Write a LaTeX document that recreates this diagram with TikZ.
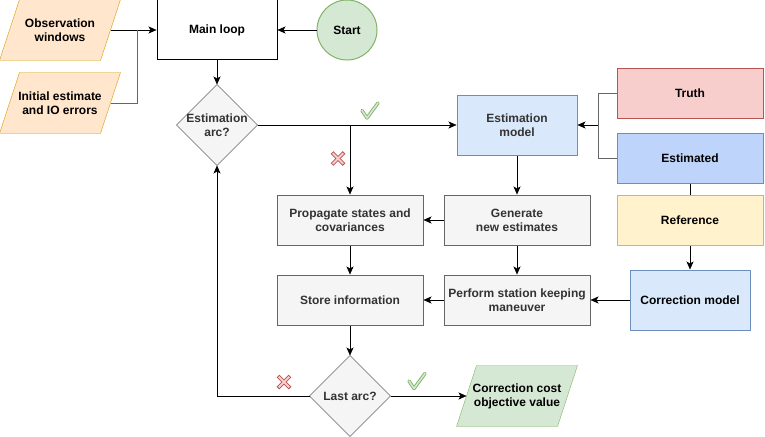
\documentclass[tikz,border=0pt]{standalone}
\usepackage{fontspec}
\setmainfont{Liberation Sans}
\usetikzlibrary{arrows.meta,backgrounds,calc}
\definecolor{orF}{HTML}{FFE6CC}\definecolor{orS}{HTML}{D79B00}
\definecolor{grnF}{HTML}{D5E8D4}\definecolor{grnS}{HTML}{82B366}
\definecolor{gyF}{HTML}{F5F5F5}\definecolor{gyS}{HTML}{666666}\definecolor{gyT}{HTML}{333333}
\definecolor{bluF}{HTML}{DAE8FC}\definecolor{bluS}{HTML}{6C8EBF}
\definecolor{bl2F}{HTML}{BFD4FA}
\definecolor{redF}{HTML}{F8CECC}\definecolor{redS}{HTML}{B85450}
\definecolor{yelF}{HTML}{FFF2CC}\definecolor{yelS}{HTML}{D6B656}
\begin{document}
\begin{tikzpicture}[x=1pt,y=-1pt,line width=1pt,
  font=\fontsize{12}{14}\selectfont\bfseries,
  box/.style={draw, minimum width=120pt, minimum height=60pt, align=center, inner sep=2pt},
  wbox/.style={draw, minimum width=146pt, minimum height=50pt, align=center, inner sep=2pt},
  ghost/.style n args={2}{minimum width=#1, minimum height=#2, inner sep=0pt, align=center},
  graybox/.style={wbox, draw=gyS, fill=gyF, text=gyT},
  arr/.style={-{Stealth[length=8pt,width=7pt,inset=2pt]}},
  gline/.style={draw=gyS}]
\useasboundingbox (0,0) rectangle (765,436);

% nodes
\node[ghost={100pt}{60pt}] (obs) at (60,30) {Observation\\windows};
\node[ghost={100pt}{60pt}] (init) at (60,103) {Initial estimate\\and IO errors};
\node[box, draw=black, fill=white] (main) at (217,30) {Main loop};
\node[circle, draw=grnS, fill=grnF, minimum size=60pt, inner sep=0pt] (start) at (347,30) {Start};
\node[ghost={80pt}{80pt}, text=gyT] (earc) at (217,125) {Estimation\\arc?};
\node[box, draw=bluS, fill=bluF, text=gyT] (emod) at (517,125) {Estimation\\model};
\node[wbox, draw=redS, fill=redF] (truth) at (690,93) {Truth};
\node[wbox, draw=bluS, fill=bl2F] (estd) at (690,158) {Estimated};
\node[wbox, draw=yelS, fill=yelF] (ref) at (690,220) {Reference};
\node[graybox] (gen) at (517,220) {Generate\\new estimates};
\node[graybox] (prop) at (350,220) {Propagate states and\\covariances};
\node[graybox] (store) at (350,300) {Store information};
\node[graybox] (sk) at (517,300) {Perform station keeping\\maneuver};
\node[box, draw=bluS, fill=bluF] (corr) at (690,300) {Correction model};
\node[ghost={80pt}{80pt}, text=gyT] (larc) at (350,396) {Last arc?};
\node[ghost={100pt}{60pt}] (cost) at (517,396) {Correction cost\\objective value};

% shapes drawn behind texts
\begin{pgfonlayer}{background}
\foreach \n in {obs,init}{
  \draw[draw=orS, fill=orF] ([xshift=-10pt]\n.south west) -- ([xshift=10pt]\n.north west)
    -- ([xshift=10pt]\n.north east) -- ([xshift=-10pt]\n.south east) -- cycle;}
\draw[draw=grnS, fill=grnF] ([xshift=-10pt]cost.south west) -- ([xshift=10pt]cost.north west)
    -- ([xshift=10pt]cost.north east) -- ([xshift=-10pt]cost.south east) -- cycle;
\foreach \n in {earc,larc}{
  \draw[draw=gyS, fill=gyF] (\n.north) -- (\n.east) -- (\n.south) -- (\n.west) -- cycle;}
\end{pgfonlayer}

% connectors
\coordinate (j1) at (137,30);
\coordinate (j2) at (598,125);
\draw[arr] (obs.east) -- (main.west);
\draw[gline] (init.east) -| (j1);
\draw[arr] (start.west) -- (main.east);
\draw[arr] (main.south) -- (earc.north);
\draw[arr] (earc.east) -- (emod.west);
\draw[arr] (earc.east) -| (prop.north);
\draw[gline] (truth.west) -| (j2);
\draw[gline] (estd.west) -| (j2);
\draw[arr] (j2) -- (emod.east);
\draw (estd.south) -- (ref.north);
\draw[arr] (ref.south) -- (corr.north);
\draw[arr] (emod.south) -- (gen.north);
\draw[arr] (gen.west) -- (prop.east);
\draw[arr] (prop.south) -- (store.north);
\draw[arr] (gen.south) -- (sk.north);
\draw[arr] (corr.west) -- (sk.east);
\draw[arr] (sk.west) -- (store.east);
\draw[arr] (store.south) -- (larc.north);
\draw[arr] (larc.west) -| (earc.south);
\draw[arr] (larc.east) -- (cost.west);

% check and cross marks
\foreach \cx/\cy in {370/110.5, 417/381}{
  \draw[grnS, line width=3.4pt, line join=round, line cap=round]
    (\cx-8,\cy) -- (\cx-3,\cy+7.5) -- (\cx+8,\cy-7.5);
  \draw[grnF, line width=1.6pt, line join=round, line cap=round]
    (\cx-8,\cy) -- (\cx-3,\cy+7.5) -- (\cx+8,\cy-7.5);}
\foreach \cx/\cy in {338/158.5, 284/382}{
  \draw[redS, line width=3.6pt]
    (\cx-6,\cy-6) -- (\cx+6,\cy+6) (\cx+6,\cy-6) -- (\cx-6,\cy+6);
  \draw[redF, line width=1.8pt]
    (\cx-5.3,\cy-5.3) -- (\cx+5.3,\cy+5.3) (\cx+5.3,\cy-5.3) -- (\cx-5.3,\cy+5.3);}
\end{tikzpicture}
\end{document}
